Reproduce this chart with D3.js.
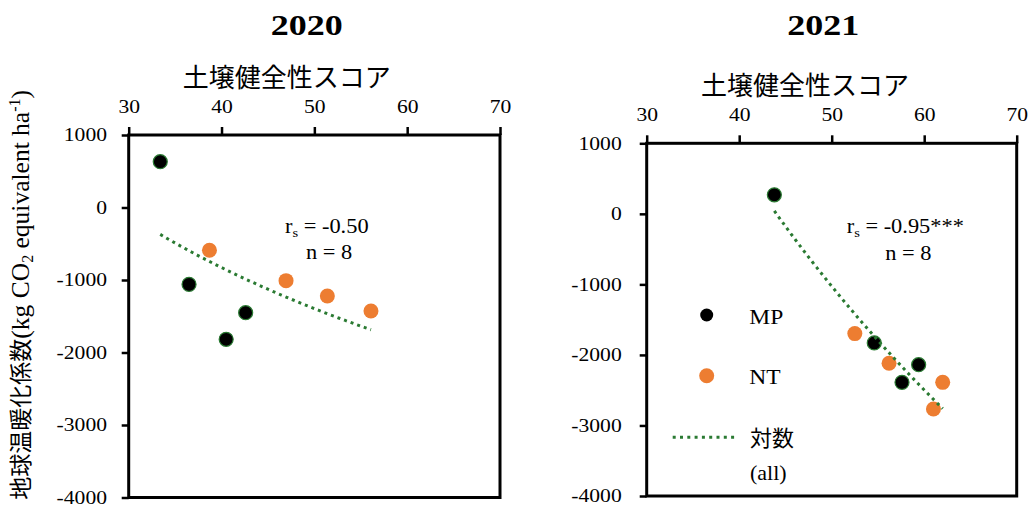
<!DOCTYPE html>
<html><head><meta charset="utf-8">
<script src="https://cdn.jsdelivr.net/npm/d3@7"></script>
<style>
body{margin:0;background:#fff;}
svg{display:block;}
text{font-family:"Liberation Serif","Noto Sans CJK JP",serif;fill:#000;}
.cjk{font-family:"Noto Sans CJK JP","Liberation Serif",sans-serif;}
</style></head>
<body>
<svg id="chart" width="1029" height="507"></svg>
<script>
// ---- data ----
const years = ["2020", "2021"];
const xTicks = [30, 40, 50, 60, 70];
const yTicks = [1000, 0, -1000, -2000, -3000, -4000];
const mp2020X = [33.4, 36.5, 40.5, 42.6];
const mp2020Y = [632, -1060, -1818, -1451];
const nt2020X = [38.7, 46.95, 51.4, 56.1];
const nt2020Y = [-590, -1009, -1221, -1428];
const mp2021X = [43.8, 54.6, 57.6, 59.4];
const mp2021Y = [270, -1830, -2389, -2138];
const nt2021X = [52.5, 56.2, 61.0, 62.0];
const nt2021Y = [-1698, -2119, -2766, -2389];
const rsLabels = ["-0.50", "-0.95***"];
const nLabels = [8, 8];
const seriesNames = ["MP", "NT"];
const trendName = "対数";
const trendNote = "(all)";
const xTitle = "土壌健全性スコア";

// ---- layout ----
const svg = d3.select("#chart");
const ORANGE = "#ED7D31", GREEN = "#2a7a32";
const panels = [
  {x0:128.7, x1:500, yTop:135, yBot:497.5, titleX:306.7, axTitleX:286.7, yPad:14.7,
   rs:[285,233.3], n:[329,259.3], mpX:mp2020X, mpY:mp2020Y, ntX:nt2020X, ntY:nt2020Y},
  {x0:646.7, x1:1016.7, yTop:143.3, yBot:496, titleX:823.3, axTitleX:805, yPad:18,
   rs:[846.7,233.3], n:[908.3,260], mpX:mp2021X, mpY:mp2021Y, ntX:nt2021X, ntY:nt2021Y}
];

function stretch(sel, k){
  sel.each(function(){
    const t = d3.select(this);
    const x = +t.attr("x") || 0, y = +t.attr("y") || 0;
    t.attr("x", 0).attr("y", 0).attr("transform", `translate(${x},${y}) scale(${k},1)`);
  });
}

function logFit(xs, ys){
  const lx = xs.map(Math.log);
  const mx = d3.mean(lx), my = d3.mean(ys);
  let sxx = 0, sxy = 0;
  lx.forEach((v,i)=>{ sxx += (v-mx)*(v-mx); sxy += (v-mx)*(ys[i]-my); });
  const a = sxy/sxx, b = my - a*mx;
  return x => a*Math.log(x) + b;
}

panels.forEach((p, i) => {
  const x = d3.scaleLinear().domain([30,70]).range([p.x0, p.x1]);
  const y = d3.scaleLinear().domain([-4000,1000]).range([p.yBot, p.yTop]);
  const g = svg.append("g");

  // title
  stretch(g.append("text").attr("x", p.titleX).attr("y", 35)
    .attr("text-anchor","middle").attr("font-size",30).attr("font-weight","bold")
    .text(years[i]), 1.2);

  // x axis title
  g.append("text").attr("class","cjk").attr("x", p.axTitleX).attr("y", p.yTop-48)
    .attr("text-anchor","middle").attr("font-size",26).text(xTitle);

  // axes
  const fmt = d => String(d);
  const xa = g.append("g").attr("transform",`translate(0,${p.yTop})`)
    .call(d3.axisTop(x).tickValues(xTicks).tickFormat(fmt).tickSize(8).tickPadding(14).tickSizeOuter(0));
  const ya = g.append("g").attr("transform",`translate(${p.x0},0)`)
    .call(d3.axisLeft(y).tickValues(yTicks).tickFormat(fmt).tickSize(7).tickPadding(p.yPad).tickSizeOuter(0));
  [xa, ya].forEach(a => {
    a.select(".domain").remove();
    a.selectAll(".tick line").attr("stroke","#000").attr("stroke-width",2.5);
    a.selectAll(".tick text").attr("font-size",18)
      .attr("font-family","Liberation Serif").attr("fill","#000");
    stretch(a.selectAll(".tick text"), 1.2);
  });

  // frame
  g.append("rect").attr("x",p.x0).attr("y",p.yTop)
    .attr("width",p.x1-p.x0).attr("height",p.yBot-p.yTop)
    .attr("fill","none").attr("stroke","#000").attr("stroke-width",3);

  // markers
  g.selectAll(".nt").data(p.ntX.map((v,k)=>[v,p.ntY[k]])).join("circle")
    .attr("cx",d=>x(d[0])).attr("cy",d=>y(d[1])).attr("r",7.5).attr("fill",ORANGE);
  g.selectAll(".mp").data(p.mpX.map((v,k)=>[v,p.mpY[k]])).join("circle")
    .attr("cx",d=>x(d[0])).attr("cy",d=>y(d[1])).attr("r",7)
    .attr("fill","#000").attr("stroke",GREEN).attr("stroke-width",1.2);

  // log trendline fitted to all points
  const allX = p.mpX.concat(p.ntX), allY = p.mpY.concat(p.ntY);
  const f = logFit(allX, allY);
  const [xmin, xmax] = d3.extent(allX);
  const pts = d3.range(0, 41).map(k => xmin + (xmax-xmin)*k/40);
  g.append("path").datum(pts)
    .attr("d", d3.line().x(d=>x(d)).y(d=>y(f(d))))
    .attr("fill","none").attr("stroke",GREEN).attr("stroke-width",3)
    .attr("stroke-dasharray","3 4");

  // statistics
  const rs = g.append("text").attr("x",p.rs[0]).attr("y",p.rs[1]).attr("font-size",20);
  rs.append("tspan").text("r");
  rs.append("tspan").attr("font-size",13).attr("dy",4).text("s");
  rs.append("tspan").attr("dy",-4).text(" = " + rsLabels[i]);
  stretch(rs, 1.12);
  stretch(g.append("text").attr("x",p.n[0]).attr("y",p.n[1]).attr("text-anchor","middle")
    .attr("font-size",20).text("n = " + nLabels[i]), 1.12);
});

// legend (right panel)
const lg = svg.append("g");
lg.append("circle").attr("cx",706.7).attr("cy",315).attr("r",6.5).attr("fill","#000");
lg.append("circle").attr("cx",706.7).attr("cy",375.7).attr("r",7.5).attr("fill",ORANGE);
stretch(lg.append("text").attr("x",749.3).attr("y",323.5).attr("font-size",21).text(seriesNames[0]), 1.12);
stretch(lg.append("text").attr("x",749.3).attr("y",384).attr("font-size",21).text(seriesNames[1]), 1.12);
lg.append("line").attr("x1",672.7).attr("x2",738.3).attr("y1",437.3).attr("y2",437.3)
  .attr("stroke",GREEN).attr("stroke-width",3).attr("stroke-dasharray","3 4.3");
lg.append("text").attr("class","cjk").attr("x",750).attr("y",446).attr("font-size",22).text(trendName);
stretch(lg.append("text").attr("x",750).attr("y",480).attr("font-size",20).text(trendNote), 1.1);

// y axis title
const yt = svg.append("text").attr("transform","translate(29,90) rotate(-90)")
  .attr("text-anchor","end").attr("font-size",25.5);
yt.append("tspan").attr("class","cjk").attr("font-size",23).text("地球温暖化係数");
yt.append("tspan").text("(kg CO");
yt.append("tspan").attr("font-size",16).attr("dy",4).text("2");
yt.append("tspan").attr("dy",-4).text(" equivalent  ha");
yt.append("tspan").attr("font-size",16).attr("dy",-9).text("-1");
yt.append("tspan").attr("dy",9).text(")");
</script>
</body></html>
